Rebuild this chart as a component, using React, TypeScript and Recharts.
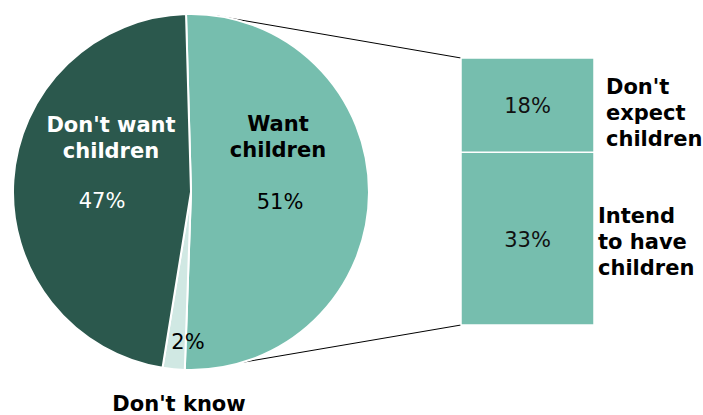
import React from "react";
import { PieChart, Pie, Cell, BarChart, Bar, XAxis, YAxis, LabelList } from "recharts";

// ---- data ----
const pieCategories = ["Want children", "Don't know", "Don't want children"];
const pieValues = [51, 2, 47];
const pieNameLines = [["Want", "children"], ["Don't know"], ["Don't want", "children"]];
const barCategories = ["Intend to have children", "Don't expect children"];
const barValues = [33, 18];
const barNameLines = [["Intend", "to have", "children"], ["Don't", "expect", "children"]];

// ---- layout / style ----
const W = 703;
const H = 415;
const CX = 191;
const CY = 192;
const R = 178;
const START = 91.6;
const BAR_LEFT = 461;
const BAR_RIGHT = 594;
const BAR_TOP = 58;
const BAR_BOTTOM = 325;
const FONT = "'DejaVu Sans', Verdana, sans-serif";
const NAME_SIZE = 21;
const PCT_SIZE = 21;
const pieColors = ["#76BEAE", "#D0E8E3", "#2B584D"];
const pieNameColors = ["#000", "#000", "#fff"];
const piePctColors = ["#000", "#000", "#fff"];
// label offsets relative to pie centre
const pieLabelPos = [
  { nx: 87, ny: -61, px: 89, py: 17 },
  { nx: -12, ny: 219, px: -3, py: 157 },
  { nx: -80, ny: -60, px: -89, py: 16 },
];
const barColor = "#76BEAE";
const barNameDx = [4, 12];
const barNameDy = [-16, -11];
const LINE_H = 26;

const pieData = pieCategories.map((name, i) => ({ name, value: pieValues[i] }));
const barRow: Record<string, number | string> = { name: "Want children" };
barCategories.forEach((c, i) => {
  barRow["s" + i] = barValues[i];
});
const barData = [barRow];
const barTotal = barValues.reduce((a, b) => a + b, 0);

const toXY = (deg: number) => {
  const rad = (deg * Math.PI) / 180;
  return { x: CX + R * Math.cos(rad), y: CY - R * Math.sin(rad) };
};

const renderPieLabel = (props: any) => {
  const i = props.index;
  const p = pieLabelPos[i];
  const lines = pieNameLines[i];
  return (
    <g key={"pl" + i}>
      {lines.map((ln, k) => (
        <text
          key={k}
          x={CX + p.nx}
          y={CY + p.ny + k * LINE_H}
          textAnchor="middle"
          fontFamily={FONT}
          fontWeight="bold"
          fontSize={NAME_SIZE}
          fill={pieNameColors[i]}
        >
          {ln}
        </text>
      ))}
      <text
        x={CX + p.px}
        y={CY + p.py}
        textAnchor="middle"
        fontFamily={FONT}
        fontSize={PCT_SIZE}
        fill={piePctColors[i]}
      >
        {pieValues[i]}%
      </text>
    </g>
  );
};

const makeBarLabel = (si: number) => (props: any) => {
  const { x, y, width, height } = props;
  const cx = Number(x) + Number(width) / 2;
  const cy = Number(y) + Number(height) / 2;
  const lines = barNameLines[si];
  return (
    <g key={"bl" + si}>
      <text x={cx} y={cy + 8} textAnchor="middle" fontFamily={FONT} fontSize={PCT_SIZE} fill="#111">
        {barValues[si]}%
      </text>
      {lines.map((ln, k) => (
        <text
          key={k}
          x={Number(x) + Number(width) + barNameDx[si]}
          y={cy + barNameDy[si] + k * LINE_H}
          textAnchor="start"
          fontFamily={FONT}
          fontWeight="bold"
          fontSize={NAME_SIZE}
          fill="#000"
        >
          {ln}
        </text>
      ))}
    </g>
  );
};

export default function App() {
  const pTop = toXY(82);
  const pBot = toXY(-73);
  return (
    <div style={{ position: "absolute", left: 0, top: 0, width: W, height: H, background: "#fff" }}>
      <svg width={W} height={H} style={{ position: "absolute", left: 0, top: 0 }}>
        <line x1={pTop.x} y1={pTop.y} x2={BAR_LEFT} y2={BAR_TOP} stroke="#000" strokeWidth={1} />
        <line x1={pBot.x} y1={pBot.y} x2={BAR_LEFT} y2={BAR_BOTTOM} stroke="#000" strokeWidth={1} />
      </svg>
      <div style={{ position: "absolute", left: 0, top: 0 }}>
        <PieChart width={W} height={H} margin={{ top: 0, right: 0, bottom: 0, left: 0 }}>
          <Pie
            data={pieData}
            dataKey="value"
            nameKey="name"
            cx={CX}
            cy={CY}
            outerRadius={R}
            innerRadius={0}
            startAngle={START}
            endAngle={START - 360}
            stroke="#fff"
            strokeWidth={2}
            label={renderPieLabel}
            labelLine={false}
            isAnimationActive={false}
          >
            {pieData.map((d, i) => (
              <Cell key={d.name} fill={pieColors[i]} />
            ))}
          </Pie>
        </PieChart>
      </div>
      <div style={{ position: "absolute", left: 0, top: 0 }}>
        <BarChart
          width={W}
          height={H}
          data={barData}
          barCategoryGap={0}
          margin={{ left: BAR_LEFT, right: W - BAR_RIGHT, top: BAR_TOP, bottom: H - BAR_BOTTOM }}
        >
          <XAxis dataKey="name" hide />
          <YAxis hide domain={[0, barTotal]} />
          {barCategories.map((c, si) => (
            <Bar
              key={c}
              dataKey={"s" + si}
              name={c}
              stackId="a"
              fill={barColor}
              stroke="#fff"
              strokeWidth={1.5}
              isAnimationActive={false}
            >
              <LabelList dataKey={"s" + si} content={makeBarLabel(si)} />
            </Bar>
          ))}
        </BarChart>
      </div>
    </div>
  );
}
